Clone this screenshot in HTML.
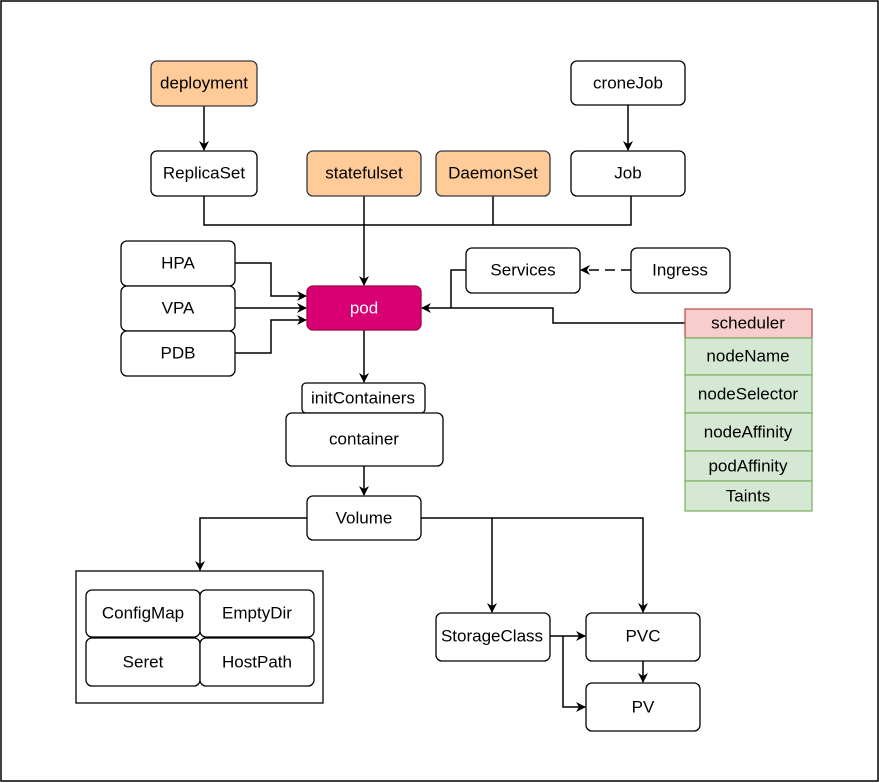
<!DOCTYPE html>
<html><head><meta charset="utf-8"><style>
html,body{margin:0;padding:0;background:#fff}
svg{display:block}
text{font-family:"Liberation Sans",Helvetica,sans-serif;font-size:17px;text-anchor:middle;dominant-baseline:central;fill:#000}
</style></head><body>
<svg width="879" height="783" viewBox="0 0 879 783" xmlns="http://www.w3.org/2000/svg">
<defs>
<marker id="a" viewBox="0 0 10 10" refX="9" refY="5" markerWidth="10" markerHeight="10" markerUnits="userSpaceOnUse" orient="auto">
<path d="M0,0 L10,5 L0,10 L3,5 Z" fill="#000"/></marker>
</defs>
<rect x="1" y="1" width="877" height="780" fill="#fff" stroke="#000" stroke-width="1.5"/>
<g fill="none" stroke="#000" stroke-width="1.5">
<path d="M204,106 V150" marker-end="url(#a)"/>
<path d="M628,105 V150" marker-end="url(#a)"/>
<path d="M204,196 V225 H631 V196"/>
<path d="M493,196 V225"/>
<path d="M364,196 V285" marker-end="url(#a)"/>
<path d="M235,263 H271 V296 H306" marker-end="url(#a)"/>
<path d="M235,308 H306" marker-end="url(#a)"/>
<path d="M235,353 H271 V320 H306" marker-end="url(#a)"/>
<path d="M631,270 H581" stroke-dasharray="10,6" marker-end="url(#a)"/>
<path d="M466,270 H451 V308"/>
<path d="M685,323 H553 V308 H422" marker-end="url(#a)"/>
<path d="M364,330 V382" marker-end="url(#a)"/>
<path d="M364,466 V495" marker-end="url(#a)"/>
<path d="M307,518 H200 V570" marker-end="url(#a)"/>
<path d="M421,518 H643 V612" marker-end="url(#a)"/>
<path d="M492,518 V612" marker-end="url(#a)"/>
<path d="M550,636 H585" marker-end="url(#a)"/>
<path d="M563,636 V707 H585" marker-end="url(#a)"/>
<path d="M643,661 V682" marker-end="url(#a)"/>
</g>
<g stroke="#000" stroke-width="1.3">
<rect x="151" y="61" width="106" height="45" rx="6" fill="#ffcc99" stroke="#36393d"/>
<rect x="571" y="61" width="114" height="44" rx="6" fill="#fff"/>
<rect x="151" y="151" width="106" height="45" rx="6" fill="#fff"/>
<rect x="307" y="151" width="114" height="45" rx="6" fill="#ffcc99" stroke="#36393d"/>
<rect x="436" y="151" width="114" height="45" rx="6" fill="#ffcc99" stroke="#36393d"/>
<rect x="571" y="151" width="114" height="45" rx="6" fill="#fff"/>
<rect x="121" y="241" width="114" height="45" rx="6" fill="#fff"/>
<rect x="121" y="286" width="114" height="45" rx="6" fill="#fff"/>
<rect x="121" y="331" width="114" height="45" rx="6" fill="#fff"/>
<rect x="307" y="286" width="114" height="44" rx="6" fill="#d80073" stroke="#a50040"/>
<rect x="466" y="248" width="114" height="45" rx="6" fill="#fff"/>
<rect x="631" y="248" width="99" height="45" rx="6" fill="#fff"/>
<rect x="685" y="309" width="127" height="29" fill="#f8cecc" stroke="#b85450"/>
<rect x="685" y="338" width="127" height="37" fill="#d5e8d4" stroke="#82b366"/>
<rect x="685" y="375" width="127" height="38" fill="#d5e8d4" stroke="#82b366"/>
<rect x="685" y="413" width="127" height="38" fill="#d5e8d4" stroke="#82b366"/>
<rect x="685" y="451" width="127" height="30" fill="#d5e8d4" stroke="#82b366"/>
<rect x="685" y="481" width="127" height="30" fill="#d5e8d4" stroke="#82b366"/>
<rect x="302" y="383" width="123" height="30" rx="4" fill="#fff"/>
<rect x="286" y="413" width="157" height="53" rx="6" fill="#fff"/>
<rect x="307" y="496" width="114" height="44" rx="6" fill="#fff"/>
<rect x="76" y="571" width="247" height="132" fill="#fff"/>
<rect x="86" y="590" width="114" height="47" rx="6" fill="#fff"/>
<rect x="200" y="590" width="114" height="47" rx="6" fill="#fff"/>
<rect x="86" y="638" width="114" height="48" rx="6" fill="#fff"/>
<rect x="200" y="638" width="114" height="48" rx="6" fill="#fff"/>
<rect x="436" y="613" width="114" height="48" rx="6" fill="#fff"/>
<rect x="586" y="613" width="114" height="48" rx="6" fill="#fff"/>
<rect x="586" y="683" width="114" height="48" rx="6" fill="#fff"/>
</g>
<text x="204" y="83">deployment</text>
<text x="628" y="83">croneJob</text>
<text x="204" y="173">ReplicaSet</text>
<text x="364" y="173">statefulset</text>
<text x="493" y="173">DaemonSet</text>
<text x="628" y="173">Job</text>
<text x="178" y="263">HPA</text>
<text x="178" y="308">VPA</text>
<text x="178" y="353">PDB</text>
<text x="364" y="308" style="fill:#fff">pod</text>
<text x="523" y="270">Services</text>
<text x="680" y="270">Ingress</text>
<text x="748" y="323">scheduler</text>
<text x="748" y="356">nodeName</text>
<text x="748" y="394">nodeSelector</text>
<text x="748" y="432">nodeAffinity</text>
<text x="748" y="466">podAffinity</text>
<text x="748" y="496">Taints</text>
<text x="363" y="398">initContainers</text>
<text x="364" y="439">container</text>
<text x="364" y="518">Volume</text>
<text x="143" y="613">ConfigMap</text>
<text x="257" y="613">EmptyDir</text>
<text x="143" y="662">Seret</text>
<text x="257" y="662">HostPath</text>
<text x="492" y="636">StorageClass</text>
<text x="643" y="636">PVC</text>
<text x="643" y="707">PV</text>
</svg>
</body></html>
